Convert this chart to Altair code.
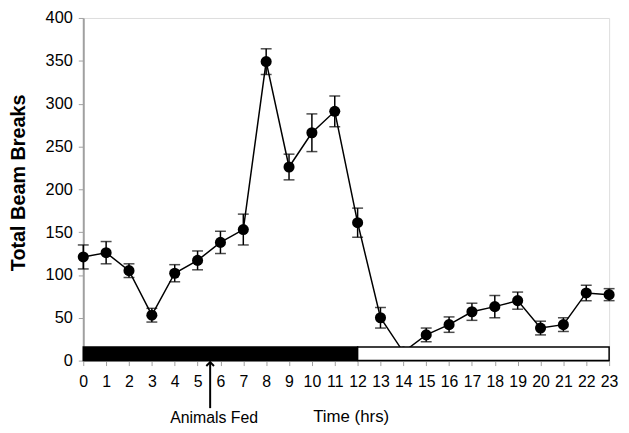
import altair as alt
import pandas as pd

hours = list(range(24))
means = [121, 126, 105, 53, 102, 117, 138, 153, 349, 226, 266, 291,
         161, 50, 10, 30, 42, 57, 63, 70, 38, 42, 79, 77]
errors = [14, 13, 8, 8, 10, 11, 13, 18, 15, 15, 22, 18,
          17, 12, 5, 8, 9, 10, 13, 10, 8, 8, 9, 7]
y_ticks = [0, 50, 100, 150, 200, 250, 300, 350, 400]

bar_start = [0, 12]
bar_end = [12, 23]
bar_fill = ["#000000", "#ffffff"]
bar_low = [0, 0]
bar_high = [16, 16]

fed_hour = 5.55
fed_label = "Animals Fed"

df = pd.DataFrame({"hour": hours, "mean": means, "err": errors})
df["lo"] = df["mean"] - df["err"]
df["hi"] = df["mean"] + df["err"]

bars = pd.DataFrame({"hour": bar_start, "x2": bar_end, "fill": bar_fill,
                     "mean": bar_low, "y2": bar_high})
fed = pd.DataFrame({"hour": [fed_hour], "label": [fed_label]})

FONT = "Liberation Sans"
GRAY = "#a0a0a0"
H = 346

xscale = alt.Scale(domain=[0, 23], nice=False, zero=False)
yscale = alt.Scale(domain=[0, 400], nice=False)

xaxis = alt.Axis(values=hours, title="Time (hrs)", grid=False, labelOverlap=False,
                 labelFlush=False,
                 labelFontSize=16, labelFont=FONT, labelColor="#000",
                 tickColor=GRAY, tickSize=5, domainColor=GRAY, domainWidth=2,
                 labelPadding=8, titleFont=FONT, titleFontSize=17,
                 titleFontWeight="normal", titleColor="#000",
                 titleX=270, titleY=57, titleBaseline="middle", titleAlign="center")
yaxis = alt.Axis(values=y_ticks, title="Total Beam Breaks", grid=False,
                 labelOverlap=False, labelFlush=False,
                 labelFontSize=16.5, labelFont=FONT, labelColor="#000",
                 tickColor=GRAY, tickSize=5, domainColor=GRAY, domainWidth=2,
                 labelPadding=6, titleFont=FONT, titleFontSize=20,
                 titleFontWeight="bold", titleColor="#000",
                 titleX=-65, titleY=166, titleBaseline="middle", titleAlign="center",
                 titleAngle=270)


def X(field):
    return alt.X(field, type="quantitative", scale=xscale, axis=xaxis)


def Y(field):
    return alt.Y(field, type="quantitative", scale=yscale, axis=yaxis)


base = alt.Chart(df)

line = base.mark_line(color="black", strokeWidth=1.5).encode(
    x=X("hour"), y=Y("mean"))
rules = base.mark_rule(color="black", strokeWidth=1.5).encode(
    x=X("hour"), y=Y("lo"), y2="hi:Q")
caps_hi = base.mark_tick(color="black", orient="horizontal", size=11,
                         thickness=1.5).encode(x=X("hour"), y=Y("hi"))
caps_lo = base.mark_tick(color="black", orient="horizontal", size=11,
                         thickness=1.5).encode(x=X("hour"), y=Y("lo"))
points = base.mark_circle(color="black", opacity=1, size=125).encode(
    x=X("hour"), y=Y("mean"))

rects = alt.Chart(bars).mark_rect(stroke="black", strokeWidth=1.5).encode(
    x=X("hour"), x2="x2:Q", y=Y("mean"), y2="y2:Q",
    fill=alt.Fill("fill:N", scale=None, legend=None))

arrow = alt.Chart(fed).mark_rule(color="black", strokeWidth=2, clip=False).encode(
    x=X("hour"), y=alt.value(H + 1), y2=alt.value(H + 48))
head = alt.Chart(fed).mark_point(shape="M -1 1 L 0 0 L 1 1", filled=False,
                                 color="black", strokeWidth=2, size=60,
                                 opacity=1, clip=False).encode(
    x=X("hour"), y=alt.value(H + 1.5))
label = alt.Chart(fed).mark_text(font=FONT, fontSize=16, color="black",
                                 baseline="middle", align="center", dx=4).encode(
    x=X("hour"), y=alt.value(H + 58), text="label:N")

chart = alt.layer(line, rules, caps_hi, caps_lo, points, rects, arrow, head, label).properties(
    width=531, height=H,
    padding={"left": 76, "top": 8, "right": 12, "bottom": 66},
    autosize=alt.AutoSizeParams(type="none"),
).configure_view(stroke=GRAY, strokeWidth=2).configure(background="white")

chart.save("out.html", embed_options={"renderer": "svg", "actions": False})
